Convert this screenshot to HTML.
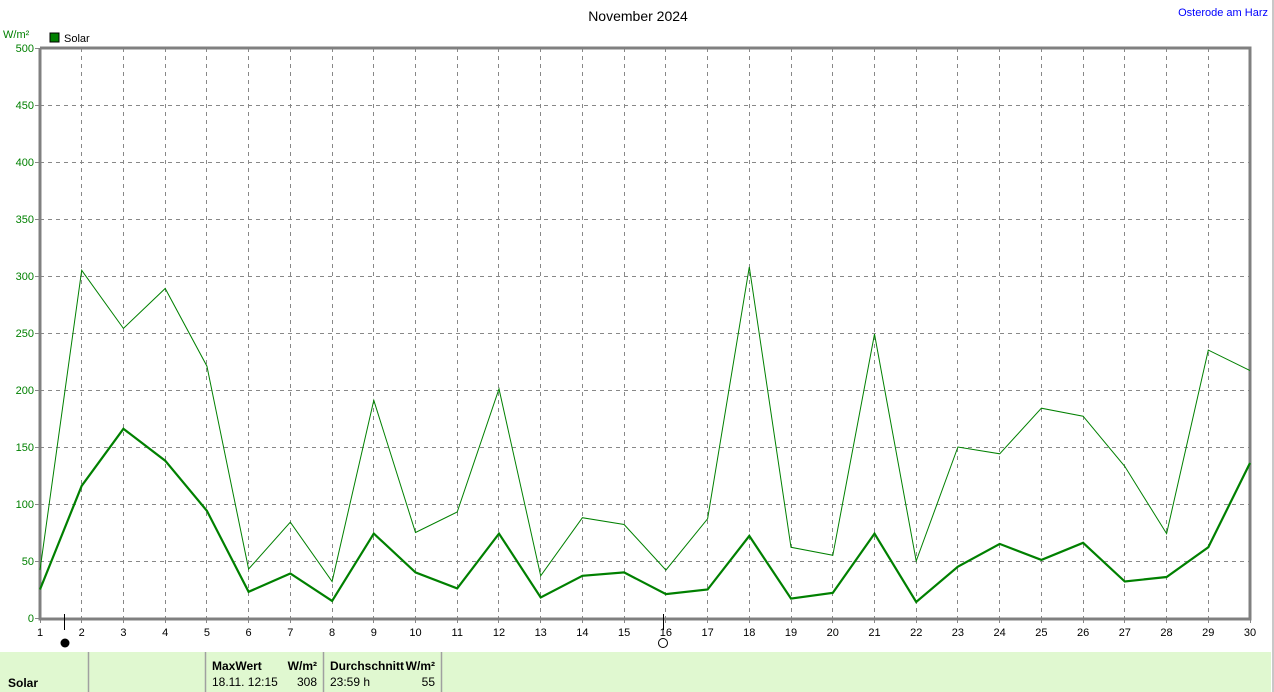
<!DOCTYPE html>
<html><head><meta charset="utf-8"><style>
body{margin:0;background:#fff;width:1274px;height:692px;overflow:hidden;font-family:"Liberation Sans",sans-serif}
</style></head><body>
<svg id="s" width="1274" height="692" xmlns="http://www.w3.org/2000/svg" style="position:absolute;left:0;top:0;font-family:'Liberation Sans',sans-serif">
<rect x="1272" y="0" width="2" height="692" fill="#c8c8c8"/>
<rect x="0" y="652" width="1271" height="40" fill="#e0f8d0"/>
<g stroke="#a0a0a0" stroke-width="1.5">
<line x1="88.5" y1="652" x2="88.5" y2="692"/><line x1="205.5" y1="652" x2="205.5" y2="692"/><line x1="323.5" y1="652" x2="323.5" y2="692"/><line x1="441.5" y1="652" x2="441.5" y2="692"/>
</g>
<text x="8" y="687" font-size="12" font-weight="bold">Solar</text>
<text x="212" y="670" font-size="12" font-weight="bold">MaxWert</text>
<text x="317" y="670" font-size="12" font-weight="bold" text-anchor="end">W/m²</text>
<text x="212" y="686" font-size="12">18.11.  12:15</text>
<text x="317" y="686" font-size="12" text-anchor="end">308</text>
<text x="330" y="670" font-size="12" font-weight="bold">Durchschnitt</text>
<text x="435" y="670" font-size="12" font-weight="bold" text-anchor="end">W/m²</text>
<text x="330" y="686" font-size="12">23:59 h</text>
<text x="435" y="686" font-size="12" text-anchor="end">55</text>
<text x="638" y="21" font-size="14" text-anchor="middle">November 2024</text>
<text x="1268" y="16" font-size="11" fill="#0000ff" text-anchor="end">Osterode am Harz</text>
<text x="3" y="38" font-size="11" fill="#008000">W/m²</text>
<rect x="50" y="33" width="9" height="9" fill="#008000" stroke="#000"/>
<text x="64" y="42" font-size="11">Solar</text>
<g id="g"></g>
</svg>
<script>
var g=document.getElementById('g'),h='';
function X(d){return 40+(d-1)*1210/29}
function Y(v){return 618-v*1.14}
for(var d=2;d<=29;d++){h+='<line x1="'+(X(d)|0)+'.5" y1="48" x2="'+(X(d)|0)+'.5" y2="618" stroke="#888" stroke-dasharray="4,4"/>';}
for(var v=50;v<=450;v+=50){h+='<line x1="40" y1="'+(Y(v)|0)+'.5" x2="1250" y2="'+(Y(v)|0)+'.5" stroke="#888" stroke-dasharray="4,4"/>';}
for(var v=0;v<=500;v+=50){h+='<text x="34" y="'+(Y(v)+4)+'" font-size="11" fill="#008000" text-anchor="end">'+v+'</text><line x1="35" y1="'+(Y(v)|0)+'.5" x2="40" y2="'+(Y(v)|0)+'.5" stroke="#888"/>';}
for(var d=1;d<=30;d++){h+='<text x="'+X(d)+'" y="636" font-size="11" text-anchor="middle">'+d+'</text><line x1="'+(X(d)|0)+'.5" y1="618" x2="'+(X(d)|0)+'.5" y2="623" stroke="#888"/>';}
h+='<path d="M40,48V619H1250V48H40" fill="none" stroke="#808080" stroke-width="3"/>';
var mx=[42,305,254,289,221,43,84,32,191,75,93,201,37,88,82,42,87,308,62,55,249,50,150,144,184,177,133,74,235,217];
var av=[25,116,166,138,94,23,39,15,74,40,26,74,18,37,40,21,25,72,17,22,74,14,45,65,51,66,32,36,62,136];
function P(a){return a.map(function(v,i){return X(i+1).toFixed(1)+','+Y(v).toFixed(1)}).join(' ')}
h+='<polyline points="'+P(mx)+'" fill="none" stroke="#008000" stroke-width="1"/>';
h+='<polyline points="'+P(av)+'" fill="none" stroke="#008000" stroke-width="2.2"/>';
h+='<line x1="64.5" y1="614" x2="64.5" y2="630" stroke="#000"/><circle cx="65" cy="643" r="4.5" fill="#000"/>';
h+='<line x1="663.5" y1="614" x2="663.5" y2="630" stroke="#000"/><circle cx="663" cy="643" r="4.5" fill="#fff" stroke="#000"/>';
g.innerHTML=h;
</script>
</body></html>
